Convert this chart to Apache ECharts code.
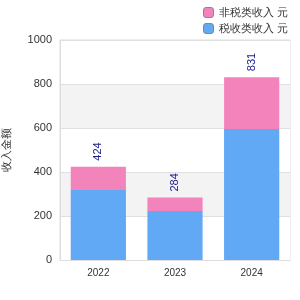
<!DOCTYPE html>
<html>
<head>
<meta charset="utf-8">
<script src="https://cdn.jsdelivr.net/npm/echarts@6/dist/echarts.min.js"></script>
<style>
  html, body { margin: 0; padding: 0; background: #fff; }
  #chart { width: 300px; height: 300px; }
</style>
</head>
<body>
<div id="chart"></div>
<script>
const years = ['2022', '2023', '2024']
const baseValues = [318, 223, 595]
const extraValues = [106, 61, 236]
const yTicks = [0, 200, 400, 600, 800, 1000]

const chart = echarts.init(document.getElementById('chart'))

chart.setOption({
  animation: false,
  color: ['#f384bb', '#61a8f5'],
  legend: {
    orient: 'vertical',
    top: 2,
    left: 198,
    itemWidth: 10,
    itemHeight: 10,
    itemGap: 5,
    itemStyle: { borderColor: '#888', borderWidth: 1 },
    textStyle: { fontSize: 11, color: '#333' },
    data: ['非税类收入 元', '税收类收入 元']
  },
  grid: {
    left: 60,
    right: 10,
    top: 40,
    bottom: 40,
    outerBoundsMode: 'none',
    show: true,
    borderColor: '#ddd'
  },
  xAxis: {
    type: 'category',
    data: years,
    axisTick: { show: false },
    axisLine: { lineStyle: { color: '#ddd' } },
    axisLabel: { color: '#333', fontSize: 10 }
  },
  yAxis: {
    type: 'value',
    min: yTicks[0],
    max: yTicks[yTicks.length - 1],
    interval: 200,
    name: '收入金额',
    nameLocation: 'middle',
    nameRotate: 90,
    nameGap: 48,
    nameTextStyle: { color: '#333', fontSize: 11 },
    axisLine: { show: true, lineStyle: { color: '#ddd' } },
    axisLabel: { color: '#333', fontSize: 11, formatter: v => String(v) },
    splitLine: { lineStyle: { color: '#e0e0e0' } },
    splitArea: { show: true, areaStyle: { color: ['#fff', '#f3f3f3'] } }
  },
  series: [
    {
      name: '税收类收入 元',
      type: 'bar',
      stack: 'total',
      barWidth: '72%',
      itemStyle: { color: '#61a8f5' },
      data: baseValues
    },
    {
      name: '非税类收入 元',
      type: 'bar',
      stack: 'total',
      itemStyle: { color: '#f384bb' },
      label: {
        show: true,
        position: 'top',
        rotate: 90,
        align: 'left',
        verticalAlign: 'middle',
        distance: 6,
        color: '#1a1a8c',
        fontSize: 11,
        formatter: p => baseValues[p.dataIndex] + extraValues[p.dataIndex]
      },
      data: extraValues
    }
  ]
})
</script>
</body>
</html>
